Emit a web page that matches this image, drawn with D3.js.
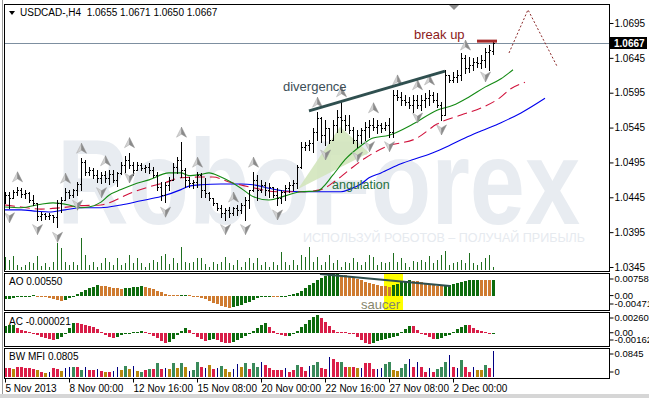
<!DOCTYPE html>
<html><head><meta charset="utf-8">
<script src="https://cdn.jsdelivr.net/npm/d3@7/dist/d3.min.js"></script>
<style>
html,body{margin:0;padding:0;background:#fff;}
svg{display:block;font-family:"Liberation Sans",Arial,sans-serif;}
</style></head><body>
<svg id="c" width="649" height="398"></svg>
<script>
// ---------------- DATA ----------------
const symbolTitle = "USDCAD-,H4  1.0655 1.0671 1.0650 1.0667";
const lastPrice = 1.0667;
const priceTicks = [1.0695,1.0645,1.0595,1.0545,1.0495,1.0445,1.0395,1.0345];
const dateTickIdx = [0,16,32,48,64,80,96,112];
const dateLabels = ["5 Nov 2013","8 Nov 00:00","12 Nov 16:00","15 Nov 08:00","20 Nov 00:00","22 Nov 16:00","27 Nov 08:00","2 Dec 00:00"];

const open = [1.0441,1.0448,1.0444,1.0453,1.0456,1.0450,1.0451,1.0441,1.0437,1.0418,
 1.0421,1.0418,1.0420,1.0417,1.0437,1.0441,1.0453,1.0448,1.0456,1.0464,
 1.0496,1.0481,1.0484,1.0477,1.0473,1.0477,1.0473,1.0478,1.0470,1.0480,
 1.0491,1.0499,1.0491,1.0484,1.0491,1.0487,1.0489,1.0484,1.0477,1.0460,
 1.0448,1.0463,1.0470,1.0489,1.0499,1.0484,1.0470,1.0466,1.0467,1.0477,
 1.0456,1.0451,1.0444,1.0437,1.0430,1.0423,1.0427,1.0423,1.0430,1.0427,
 1.0434,1.0441,1.0455,1.0470,1.0456,1.0463,1.0456,1.0460,1.0448,1.0444,
 1.0453,1.0458,1.0463,1.0466,1.0489,1.0517,1.0520,1.0523,1.0539,1.0559,
 1.0534,1.0544,1.0527,1.0549,1.0560,1.0556,1.0549,1.0542,1.0527,1.0534,
 1.0542,1.0546,1.0549,1.0546,1.0549,1.0544,1.0549,1.0539,1.0592,1.0589,
 1.0585,1.0582,1.0577,1.0585,1.0577,1.0585,1.0587,1.0592,1.0585,1.0577,
 1.0563,1.0620,1.0613,1.0618,1.0620,1.0645,1.0630,1.0635,1.0639,1.0638,
 1.0642,1.0653,1.0655];
const high = [1.0453,1.0453,1.0456,1.0460,1.0458,1.0456,1.0453,1.0448,1.0437,1.0424,
 1.0423,1.0423,1.0420,1.0441,1.0446,1.0458,1.0456,1.0457,1.0467,1.0501,
 1.0499,1.0489,1.0487,1.0484,1.0481,1.0483,1.0484,1.0484,1.0481,1.0496,
 1.0504,1.0509,1.0496,1.0496,1.0494,1.0491,1.0494,1.0489,1.0481,1.0467,
 1.0467,1.0474,1.0494,1.0503,1.0524,1.0487,1.0474,1.0470,1.0481,1.0480,
 1.0473,1.0453,1.0444,1.0437,1.0434,1.0430,1.0431,1.0431,1.0434,1.0437,
 1.0446,1.0456,1.0481,1.0477,1.0470,1.0467,1.0466,1.0460,1.0458,1.0456,
 1.0463,1.0467,1.0470,1.0491,1.0524,1.0524,1.0527,1.0544,1.0567,1.0560,
 1.0556,1.0544,1.0556,1.0570,1.0582,1.0563,1.0563,1.0546,1.0542,1.0544,
 1.0553,1.0556,1.0559,1.0556,1.0552,1.0553,1.0559,1.0599,1.0599,1.0596,
 1.0592,1.0589,1.0592,1.0592,1.0592,1.0595,1.0599,1.0596,1.0595,1.0582,
 1.0628,1.0620,1.0625,1.0628,1.0652,1.0649,1.0646,1.0645,1.0646,1.0649,
 1.0659,1.0663,1.0671];
const low = [1.0437,1.0430,1.0444,1.0448,1.0446,1.0444,1.0438,1.0434,1.0413,1.0413,
 1.0414,1.0414,1.0410,1.0402,1.0424,1.0441,1.0444,1.0446,1.0448,1.0456,
 1.0477,1.0477,1.0473,1.0467,1.0466,1.0467,1.0464,1.0467,1.0461,1.0478,
 1.0481,1.0487,1.0477,1.0484,1.0484,1.0481,1.0480,1.0474,1.0456,1.0441,
 1.0438,1.0456,1.0470,1.0480,1.0474,1.0460,1.0460,1.0458,1.0460,1.0446,
 1.0446,1.0441,1.0434,1.0427,1.0417,1.0413,1.0417,1.0420,1.0420,1.0423,
 1.0413,1.0430,1.0454,1.0441,1.0453,1.0448,1.0446,1.0446,1.0434,1.0437,
 1.0441,1.0453,1.0456,1.0458,1.0487,1.0513,1.0513,1.0510,1.0527,1.0524,
 1.0520,1.0523,1.0527,1.0539,1.0539,1.0542,1.0537,1.0523,1.0517,1.0523,
 1.0527,1.0532,1.0542,1.0537,1.0539,1.0542,1.0532,1.0532,1.0585,1.0577,
 1.0577,1.0573,1.0567,1.0573,1.0570,1.0575,1.0577,1.0582,1.0575,1.0556,
 1.0563,1.0610,1.0610,1.0610,1.0613,1.0623,1.0625,1.0628,1.0632,1.0630,
 1.0632,1.0628,1.0650];
const close = [1.0448,1.0444,1.0453,1.0456,1.0450,1.0451,1.0441,1.0437,1.0418,1.0421,
 1.0418,1.0420,1.0417,1.0437,1.0441,1.0453,1.0448,1.0456,1.0464,1.0496,
 1.0481,1.0484,1.0477,1.0473,1.0477,1.0473,1.0478,1.0470,1.0480,1.0491,
 1.0499,1.0491,1.0484,1.0491,1.0487,1.0489,1.0484,1.0477,1.0460,1.0448,
 1.0463,1.0470,1.0489,1.0499,1.0484,1.0470,1.0466,1.0467,1.0477,1.0456,
 1.0451,1.0444,1.0437,1.0430,1.0423,1.0427,1.0423,1.0430,1.0427,1.0434,
 1.0441,1.0455,1.0470,1.0456,1.0463,1.0456,1.0460,1.0448,1.0444,1.0453,
 1.0458,1.0463,1.0466,1.0489,1.0517,1.0520,1.0523,1.0539,1.0559,1.0534,
 1.0544,1.0527,1.0549,1.0560,1.0556,1.0549,1.0542,1.0527,1.0534,1.0542,
 1.0546,1.0549,1.0546,1.0549,1.0544,1.0549,1.0539,1.0592,1.0589,1.0585,
 1.0582,1.0577,1.0585,1.0577,1.0585,1.0587,1.0592,1.0585,1.0577,1.0563,
 1.0620,1.0613,1.0618,1.0620,1.0645,1.0630,1.0635,1.0639,1.0638,1.0642,
 1.0653,1.0656,1.0667];
const volume = [1330,1000,1400,500,330,500,830,670,1400,400,
 670,330,830,2670,2170,830,500,830,500,3170,
 1500,500,830,330,670,1170,830,500,1170,500,
 670,1500,730,1170,670,330,670,1000,830,1400,
 1600,600,1170,670,2330,830,670,830,1170,1250,
 600,330,830,600,830,1330,670,500,1000,330,
 830,1170,670,1170,500,830,330,830,500,1830,
 830,500,1000,500,1500,1330,2330,830,1330,500,
 830,1500,670,1000,330,830,670,1170,830,500,
 830,1500,1330,500,830,670,830,1670,830,1170,
 670,330,900,830,1000,830,1400,670,1000,1500,
 1900,500,670,830,1000,670,1670,670,500,830,
 1170,1500,330];

// Alligator lines, read at sample bars (bar index, price)
const jawBars  = [0,4,8,11,15,19,24,29,34,39,44,46,49,54,59,62,66,70,74,79,84,86,89,91,94,99,103,107,111,115,119,124,129,135];
const jawVals  = [1.0427,1.0427,1.0425,1.0424,1.0427,1.0430,1.0430,1.0434,1.0440,1.0446,1.0456,1.0461,1.0463,1.0464,1.0464,1.0463,1.0458,1.0454,1.0453,1.0453,1.0453,1.0456,1.0464,1.0473,1.0480,1.0493,1.0501,1.0509,1.0519,1.0530,1.0540,1.0552,1.0566,1.0587];
const teethBars = [0,4,9,14,19,24,26,31,36,40,44,49,52,56,61,68,74,79,82,86,90,95,103,108,114,119,124,126,130];
const teethVals = [1.0434,1.0431,1.0428,1.0430,1.0433,1.0434,1.0437,1.0450,1.0460,1.0466,1.0473,1.0474,1.0474,1.0467,1.0460,1.0453,1.0453,1.0456,1.0466,1.0484,1.0501,1.0517,1.0530,1.0550,1.0563,1.0573,1.0589,1.0599,1.0610];
const lipsBars = [0,4,9,12,16,19,21,24,26,29,32,36,41,44,46,49,51,54,59,62,66,70,74,78,82,85,89,92,96,102,108,112,116,120,124,127];
const lipsVals = [1.0431,1.0430,1.0435,1.0437,1.0434,1.0430,1.0431,1.0438,1.0448,1.0456,1.0463,1.0470,1.0480,1.0480,1.0476,1.0478,1.0480,1.0474,1.0458,1.0446,1.0441,1.0447,1.0453,1.0454,1.0477,1.0499,1.0519,1.0530,1.0534,1.0550,1.0570,1.0577,1.0589,1.0603,1.0615,1.0628];

const fractalUp   = [3,15,19,25,31,44,48,57,62,78,84,92,98,103,106,115];
const fractalDown = [1,8,13,18,24,31,40,55,60,68,80,88,91,96,103,109,120];

const ao = [-0.00128,-0.00114,-0.00093,-0.00059,-0.00035,-0.00017,-0.00007,0.00010,0.00003,-0.00021,
 -0.00052,-0.00086,-0.00121,-0.00155,-0.00173,-0.00138,-0.00079,-0.00017,0.00052,0.00121,
 0.00190,0.00259,0.00311,0.00355,0.00345,0.00321,0.00297,0.00276,0.00255,0.00242,
 0.00259,0.00283,0.00304,0.00317,0.00324,0.00311,0.00276,0.00224,0.00173,0.00117,
 0.00062,0.00035,0.00021,0.00010,0.00017,0.00028,0.00014,0.00000,-0.00035,-0.00079,
 -0.00131,-0.00190,-0.00248,-0.00304,-0.00352,-0.00393,-0.00424,-0.00414,-0.00380,-0.00328,
 -0.00276,-0.00217,-0.00155,-0.00097,-0.00045,-0.00021,-0.00010,-0.00017,-0.00028,-0.00021,
 -0.00007,0.00010,0.00045,0.00097,0.00173,0.00259,0.00355,0.00449,0.00545,0.00631,
 0.00700,0.00749,0.00755,0.00758,0.00738,0.00707,0.00673,0.00631,0.00587,0.00542,
 0.00493,0.00449,0.00407,0.00373,0.00345,0.00328,0.00317,0.00362,0.00414,0.00466,
 0.00511,0.00538,0.00524,0.00500,0.00469,0.00435,0.00400,0.00369,0.00345,0.00328,
 0.00338,0.00373,0.00411,0.00449,0.00490,0.00524,0.00545,0.00559,0.00562,0.00545,
 0.00535,0.00531,0.00550];
const ac = [0.00091,0.00104,0.00108,0.00065,0.00039,0.00020,0.000065,-0.00013,-0.000325,-0.00052,
 -0.000715,-0.000845,-0.00091,-0.00078,-0.00052,0,0.00065,0.00126,0.001235,0.001105,
 0.00104,0.00091,0.000715,0.000455,0.00013,-0.00026,-0.00052,-0.00065,-0.00052,-0.000325,
 -0.000195,-0.000065,0.000065,0.00013,0.000195,0.000065,-0.00013,-0.00039,-0.000715,-0.00104,
 -0.0013,-0.00117,-0.00078,-0.00026,0.00026,0.000585,0.00039,-0.00013,-0.00052,-0.000845,
 -0.00104,-0.00091,-0.000845,-0.000975,-0.00117,-0.0013,-0.001365,-0.00117,-0.00091,-0.00065,
 -0.00039,-0.00013,0.00026,0.00065,0.00104,0.0013,0.00078,0.00026,-0.00013,-0.000325,
 -0.00048,-0.00039,-0.00013,0.00026,0.000715,0.00117,0.001625,0.002015,0.00234,0.00195,
 0.00143,0.00091,0.00039,0.00013,0.000065,0.00004,-0.000065,-0.00013,-0.00052,-0.00091,
 -0.0013,-0.0015,-0.0013,-0.0011,-0.00091,-0.00078,-0.00065,-0.00052,-0.00039,0.00013,
 0.00052,0.00091,0.000845,0.00039,0,-0.00026,-0.000585,-0.000845,-0.00078,-0.00065,
 -0.000455,-0.00026,0.00013,0.000455,0.00078,0.00104,0.000975,0.00065,0.00039,0.000195,
 0.000065,-0.000104,-0.000021];
const mfiVal = [0.0291,0.0282,0.0241,0.0313,0.0313,0.0297,0.0272,0.0250,0.0210,0.0157,
 0.0125,0.0166,0.0291,0.0260,0.0178,0.0272,0.0313,0.0313,0.0313,0.0219,
 0.0313,0.0228,0.0210,0.0250,0.0188,0.0157,0.0157,0.0188,0.0313,0.0210,
 0.0335,0.0250,0.0335,0.0188,0.0157,0.0228,0.0250,0.0250,0.0438,0.0250,
 0.0282,0.0250,0.0438,0.0282,0.0438,0.0313,0.0188,0.0219,0.0470,0.0313,
 0.0282,0.0366,0.0250,0.0291,0.0335,0.0250,0.0157,0.0260,0.0398,0.0313,
 0.0438,0.0250,0.0438,0.0313,0.0470,0.0366,0.0282,0.0219,0.0219,0.0210,
 0.0291,0.0157,0.0219,0.0376,0.0313,0.0188,0.0335,0.0376,0.0470,0.0282,
 0.0250,0.0626,0.0554,0.0470,0.0470,0.0313,0.0313,0.0313,0.0282,0.0282,
 0.0438,0.0438,0.0250,0.0250,0.0282,0.0407,0.0470,0.0219,0.0188,0.0282,
 0.0407,0.0563,0.0313,0.0470,0.0313,0.0157,0.0282,0.0157,0.0250,0.0313,
 0.0470,0.0689,0.0313,0.0282,0.0532,0.0313,0.0157,0.0313,0.0219,0.0228,
 0.0376,0.0282,0.0805];
const mfiType = ["squat","squat","fade","squat","squat","squat","squat","squat","fade","squat",
 "fade","fake","squat","squat","fade","fake","fake","green","squat","green",
 "fake","squat","squat","fake","squat","fade","squat","fake","fake","fade",
 "green","fade","fake","fade","green","squat","green","squat","green","squat",
 "fake","fade","green","fade","green","fade","fake","green","green","squat",
 "fake","fade","squat","fake","green","fade","fade","fake","fake","fade",
 "green","squat","green","green","fake","squat","squat","squat","squat","squat",
 "fake","squat","squat","green","squat","squat","fake","green","green","squat",
 "squat","fake","squat","squat","green","squat","fade","squat","fade","fake",
 "squat","squat","squat","fake","fake","green","green","fade","fade","green",
 "green","fake","squat","fake","squat","squat","fake","squat","green","green",
 "green","fake","squat","fake","green","squat","squat","fake","fade","fade",
 "green","squat","fake"];

const aoTicks = [0.00758, 0, -0.00471], aoTickText = ["0.00758","0.00","-0.00471"];
const acTicks = [0.002607, 0, -0.00162], acTickText = ["0.002607","0.00","-0.00162"];
const mfiTicks = [0.0845, 0], mfiTickText = ["0.0845","0"];

// Annotations in (bar index, value) terms
const divergenceLine = [[76,1.0569],[110,1.0626]];
const breakUpLine = [[118,1.0669],[123,1.0669]];
const projection = [[126,1.0652],[130.75,1.0714],[138,1.0633]];
const angulationTri = [[73.25,1.0457],[83.75,1.0546],[91,1.0509]];
const aoTrendLine = [[78.75,0.00758],[111.25,0.00337]];
const saucerSpan = [95,99.25];

// ---------------- LAYOUT ----------------
const svg = d3.select('#c');
const PL = 4, PR = 609;
const main = {top:4, bottom:271};
const aoP = {top:273, bottom:310};
const acP = {top:312, bottom:346};
const mfP = {top:348, bottom:378};

const x = d3.scaleLinear().domain([0,151]).range([5,609]);
const y = d3.scaleLinear().domain([1.0345,1.0695]).range([267,23]);
const yVol = d3.scaleLinear().domain([0,3300]).range([270,237]);
const yAO = d3.scaleLinear().domain([-0.00471,0.00758]).range([309,274]);
const yAC = d3.scaleLinear().domain([-0.00162,0.002607]).range([345,313]);
const yMF = d3.scaleLinear().domain([0,0.0845]).range([377,350]);
const idx = d3.range(open.length);

svg.append('rect').attr('width',649).attr('height',398).attr('fill','#fff');
svg.append('rect').attr('x',0).attr('y',394).attr('width',649).attr('height',4).attr('fill','#d6d6d6');
svg.append('line').attr('x1',2.5).attr('x2',2.5).attr('y1',0).attr('y2',394).attr('stroke','#9a9a9a');

const defs = svg.append('defs');
[['cMain',main],['cAO',aoP],['cAC',acP],['cMF',mfP]].forEach(([id,p])=>{
  defs.append('clipPath').attr('id',id).append('rect')
    .attr('x',PL).attr('y',p.top).attr('width',PR-PL).attr('height',p.bottom-p.top);
});

// ---- main panel ----
const gm = svg.append('g').attr('clip-path','url(#cMain)');
gm.append('text').text('RoboForex').attr('x',57).attr('y',224)
  .attr('font-size',120).attr('font-weight','bold').attr('textLength',523).attr('lengthAdjust','spacingAndGlyphs')
  .attr('fill','#e8ecf1');
gm.append('text').text('ИСПОЛЬЗУЙ РОБОТОВ – ПОЛУЧАЙ ПРИБЫЛЬ').attr('x',303).attr('y',242)
  .attr('font-size',13).attr('textLength',282).attr('lengthAdjust','spacingAndGlyphs')
  .attr('fill','#e6eaef');

// angulation triangle
gm.append('path').attr('d', d3.line().x(d=>x(d[0])).y(d=>y(d[1]))(angulationTri)+'Z')
  .attr('fill','#d3e6bd').attr('opacity',0.9);

// volumes
gm.append('g').attr('shape-rendering','crispEdges').selectAll('rect').data(idx).join('rect')
  .attr('x',i=>x(i)).attr('width',1)
  .attr('y',i=>yVol(volume[i])).attr('height',i=>yVol(0)-yVol(volume[i]))
  .attr('fill','#1e6e1e');

// alligator
const mline = d3.line().x(d=>x(d[0])).y(d=>y(d[1])).curve(d3.curveMonotoneX);
gm.append('path').attr('d',mline(jawBars.map((b,k)=>[b,jawVals[k]]))).attr('fill','none').attr('stroke','#0000ee').attr('stroke-width',1.1);
gm.append('path').attr('d',mline(teethBars.map((b,k)=>[b,teethVals[k]]))).attr('fill','none').attr('stroke','#d0103a').attr('stroke-width',1.1).attr('stroke-dasharray','10,5');
gm.append('path').attr('d',mline(lipsBars.map((b,k)=>[b,lipsVals[k]]))).attr('fill','none').attr('stroke','#138a13').attr('stroke-width',1.1);

// price line
gm.append('line').attr('x1',PL).attr('x2',PR).attr('y1',Math.round(y(lastPrice))+0.5).attr('y2',Math.round(y(lastPrice))+0.5)
  .attr('stroke','#7d8fa0');

// OHLC bars
const gb = gm.append('g').attr('shape-rendering','crispEdges').attr('fill','#000');
idx.forEach(i=>{
  const xi = Math.round(x(i));
  const yh = Math.round(y(high[i])), yl = Math.round(y(low[i]));
  gb.append('rect').attr('x',xi).attr('y',yh).attr('width',1).attr('height',Math.max(1,yl-yh+1));
  gb.append('rect').attr('x',xi-1).attr('y',Math.round(y(open[i]))).attr('width',1).attr('height',1);
  gb.append('rect').attr('x',xi+1).attr('y',Math.round(y(close[i]))).attr('width',1).attr('height',1);
});

// fractals
function arrow(g, cx, cy, up){
  const s = up?1:-1;
  g.append('path').attr('d',`M${cx},${cy-5*s} L${cx-5},${cy+5*s} L${cx},${cy+2*s} Z`).attr('fill','#d2d2d2').attr('stroke','#a8a8a8').attr('stroke-width',0.5);
  g.append('path').attr('d',`M${cx},${cy-5*s} L${cx+5},${cy+5*s} L${cx},${cy+2*s} Z`).attr('fill','#8a8a8a').attr('stroke','#8a8a8a').attr('stroke-width',0.5);
}
const gf = gm.append('g');
fractalUp.forEach(i=>arrow(gf, x(i)+0.5, y(high[i])-10, true));
fractalDown.forEach(i=>arrow(gf, x(i)+0.5, y(low[i])+10, false));

// annotations
const pl = d3.line().x(d=>x(d[0])).y(d=>y(d[1]));
gm.append('path').attr('d',pl(divergenceLine)).attr('stroke','#2f4f4f').attr('stroke-width',3).attr('fill','none');
gm.append('path').attr('d',pl(breakUpLine)).attr('stroke','#a52a2a').attr('stroke-width',3).attr('fill','none');
gm.append('path').attr('d',pl(projection)).attr('stroke','#8b2a2a').attr('stroke-width',1).attr('stroke-dasharray','2,2').attr('fill','none');
gm.append('text').text('divergence').attr('x',x(69.5)).attr('y',y(1.0598)).attr('font-size',13).attr('fill','#3c4e58');
gm.append('text').text('break up').attr('x',x(102.25)).attr('y',y(1.0672)).attr('font-size',13).attr('fill','#8b1a1a');
gm.append('text').text('angulation').attr('x',x(81.75)).attr('y',y(1.0457)).attr('font-size',12.5).attr('fill','#26703e');
// shift marker
gm.append('path').attr('d',`M${x(112.25)-5},${main.top+1} L${x(112.25)+5},${main.top+1} L${x(112.25)},${main.top+6} Z`).attr('fill','#8c8c8c');

// title
svg.append('path').attr('d','M9,11 L15,11 L12,15 Z').attr('fill','#000');
svg.append('text').text(symbolTitle).attr('x',20).attr('y',16).attr('font-size',10).attr('fill','#000').style('white-space','pre');

// ---- AO ----
const gao = svg.append('g').attr('clip-path','url(#cAO)');
gao.append('rect').attr('x',x(saucerSpan[0])-1).attr('width',x(saucerSpan[1])-x(saucerSpan[0])+2)
  .attr('y',aoP.top).attr('height',aoP.bottom-aoP.top).attr('fill','#ffff00');
function hist(g, vals, sc, colorFn){
  g.append('g').attr('shape-rendering','crispEdges').selectAll('rect').data(idx).join('rect')
    .attr('x',i=>Math.round(x(i))-1).attr('width',3)
    .attr('y',i=>Math.round(sc(Math.max(0,vals[i]))))
    .attr('height',i=>Math.max(1,Math.round(sc(Math.min(0,vals[i])))-Math.round(sc(Math.max(0,vals[i])))))
    .attr('fill',colorFn);
}
hist(gao, ao, yAO, i=> (i===0 || ao[i]>=ao[i-1]) ? '#0d6b0d' : '#cf7b30');
gao.append('path').attr('d',d3.line().x(d=>x(d[0])).y(d=>yAO(d[1]))(aoTrendLine)).attr('stroke','#2f4f4f').attr('stroke-width',2).attr('fill','none');
gao.append('text').text('saucer').attr('x',x(89)).attr('y',yAO(-0.0047)).attr('font-size',13).attr('fill','#86866c');
svg.append('text').text('AO 0.00550').attr('x',9).attr('y',285).attr('font-size',10);

// ---- AC ----
const gac = svg.append('g').attr('clip-path','url(#cAC)');
hist(gac, ac, yAC, i=> (i===0 || ac[i]>=ac[i-1]) ? '#0d6b0d' : '#d81e48');
svg.append('text').text('AC -0.000021').attr('x',9).attr('y',325).attr('font-size',10);

// ---- MFI ----
const gmf = svg.append('g').attr('clip-path','url(#cMF)').attr('shape-rendering','crispEdges');
const mfiColor = {green:'#3a8a5a', fade:'#b8860b', fake:'#000080', squat:'#dc1e48'};
gmf.selectAll('rect').data(idx).join('rect')
  .attr('x',i=> mfiType[i]==='fake' ? Math.round(x(i)) : Math.round(x(i))-1)
  .attr('width',i=> mfiType[i]==='fake' ? 1 : 3)
  .attr('y',i=>Math.round(yMF(mfiVal[i]))).attr('height',i=>Math.round(yMF(0))-Math.round(yMF(mfiVal[i])))
  .attr('fill',i=>mfiColor[mfiType[i]]);
svg.append('text').text('BW MFI 0.0805').attr('x',9).attr('y',360).attr('font-size',10);

// ---- panel borders ----
[main,aoP,acP,mfP].forEach(p=>{
  svg.append('rect').attr('x',PL+0.5).attr('y',p.top+0.5).attr('width',PR-PL).attr('height',p.bottom-p.top)
    .attr('fill','none').attr('stroke','#000');
});

// ---- axes ----
const pAxis = svg.append('g').attr('transform',`translate(${PR+0.5},0)`)
  .call(d3.axisRight(y).tickValues(priceTicks).tickSize(4).tickPadding(1).tickFormat(d3.format('.4f')));
pAxis.select('.domain').remove();
pAxis.selectAll('text').attr('font-size',10).attr('font-family','"Liberation Sans",Arial,sans-serif');
// current price label
const yl = y(lastPrice);
svg.append('rect').attr('x',PR+1).attr('y',Math.round(yl)-6).attr('width',37).attr('height',12).attr('fill','#000');
svg.append('text').text(d3.format('.4f')(lastPrice)).attr('x',PR+5).attr('y',Math.round(yl)+4).attr('font-size',10).attr('font-weight','bold').attr('fill','#fff');

function subAxis(sc, p, ticks, texts){
  const g = svg.append('g').attr('transform',`translate(${PR+0.5},0)`)
    .call(d3.axisRight(sc).tickValues(ticks).tickSize(4).tickPadding(1).tickFormat((d,k)=>texts[k]));
  g.select('.domain').remove();
  g.selectAll('.tick').attr('transform',d=>`translate(0,${Math.max(p.top+6,Math.min(p.bottom-6,sc(d)))})`);
  g.selectAll('text').attr('font-size',9.5).attr('font-family','"Liberation Sans",Arial,sans-serif');
}
subAxis(yAO, aoP, aoTicks, aoTickText);
subAxis(yAC, acP, acTicks, acTickText);
subAxis(yMF, mfP, mfiTicks, mfiTickText);

const xAxis = svg.append('g').attr('transform',`translate(0,${mfP.bottom+0.5})`)
  .call(d3.axisBottom(x).tickValues(dateTickIdx).tickSize(4).tickFormat((d,k)=>dateLabels[k]));
xAxis.select('.domain').remove();
xAxis.selectAll('text').attr('text-anchor','start').attr('dy',null).attr('y',13)
  .attr('font-size',10).attr('font-family','"Liberation Sans",Arial,sans-serif');
</script>
</body></html>
